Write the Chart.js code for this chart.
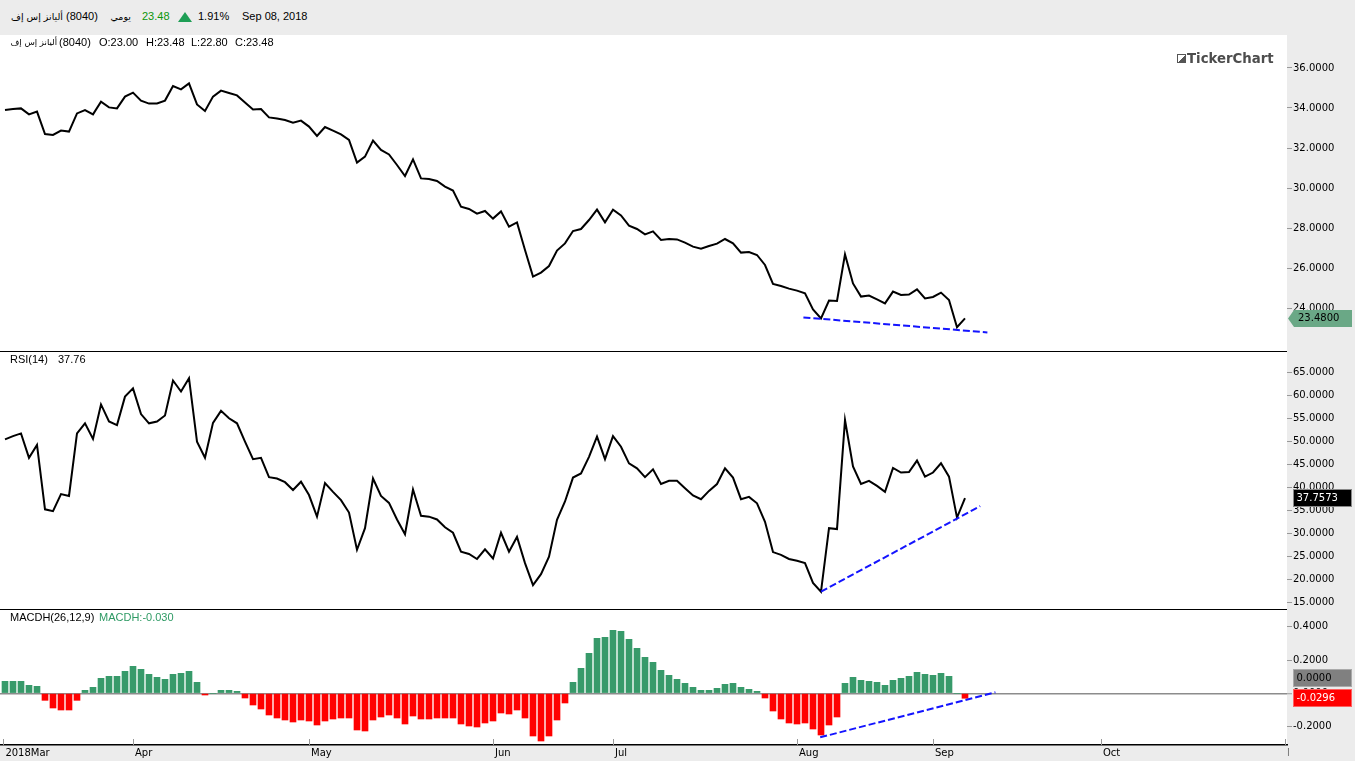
<!DOCTYPE html>
<html>
<head>
<meta charset="utf-8">
<script src="https://cdn.jsdelivr.net/npm/chart.js@4.4.1/dist/chart.umd.min.js"></script>
<style>
  html, body { margin: 0; padding: 0; background: #ececec; }
  #wrap { position: relative; width: 1355px; height: 761px; overflow: hidden; background: #ececec;
          font-family: 'Liberation Sans', Arial, sans-serif; font-size: 11px; color: #000; }
  canvas { position: absolute; left: 0; }
  .t { position: absolute; white-space: nowrap; line-height: 13px; unicode-bidi: isolate; }
  .ar { font-family: 'DejaVu Sans', sans-serif; font-size: 9.5px; direction: rtl; text-align: right; }
  .sep { position: absolute; left: 0; width: 1287px; height: 1px; background: #000; }
  .tri { position: absolute; left: 178px; top: 12px; width: 0; height: 0;
         border-left: 7px solid transparent; border-right: 7px solid transparent; border-bottom: 10px solid #1e9e55; }
  .logo { position: absolute; left: 1177px; top: 51px; font: bold 13.3px 'DejaVu Sans', sans-serif; color: #4d4d4d; }
  .logo i { display: inline-block; width: 7px; height: 7px; border: 1px solid #555; margin-right: 1px;
            background: linear-gradient(to top left, #555 50%, #fff 50%); }
</style>
</head>
<body>
<div id="wrap">
  <!-- header bar -->
  <span class="t ar" style="left:0;width:63px;top:10px">أليانز إس إف</span>
  <span class="t" style="left:66px;top:10px">(8040)</span>
  <span class="t ar" style="left:100px;width:31px;top:10px">يومي</span>
  <span class="t" style="left:142px;top:10px;color:#0a960a">23.48</span>
  <div class="tri"></div>
  <span class="t" style="left:198px;top:10px">1.91%</span>
  <span class="t" style="left:242px;top:10px">Sep 08, 2018</span>

  <canvas id="priceChart" width="1355" height="317" style="top:35px"></canvas>
  <canvas id="rsiChart" width="1355" height="258" style="top:352px"></canvas>
  <canvas id="macdChart" width="1355" height="151" style="top:610px"></canvas>

  <div class="sep" style="top:351px"></div>
  <div class="sep" style="top:609px"></div>

  <!-- panel legends -->
  <span class="t ar" style="left:0;width:57px;top:36px;font-size:8.5px">أليانز إس إف</span>
  <span class="t" style="left:59px;top:36px">(8040)</span>
  <span class="t" style="left:99px;top:36px">O:23.00</span>
  <span class="t" style="left:146px;top:36px">H:23.48</span>
  <span class="t" style="left:191px;top:36px">L:22.80</span>
  <span class="t" style="left:235px;top:36px">C:23.48</span>
  <div class="logo"><i></i>TickerChart</div>

  <span class="t" style="left:10px;top:353px">RSI(14)</span>
  <span class="t" style="left:58px;top:353px">37.76</span>

  <span class="t" style="left:10px;top:611px">MACDH(26,12,9)</span>
  <span class="t" style="left:99px;top:611px;color:#2e9a64">MACDH:-0.030</span>
</div>

<script>
// trading-day index 0 = 2018-03-08 ... 120 = 2018-09-06
const monthTicks = [-0.2, 16, 38, 61, 76, 99, 116, 137, 160];
const monthLabels = ['2018Mar', 'Apr', 'May', 'Jun', 'Jul', 'Aug', 'Sep', 'Oct', 'Nov'];

const price = [
  33.90, 33.95, 33.98, 33.68, 33.82, 32.70, 32.65, 32.87, 32.82, 33.73,
  33.90, 33.68, 34.32, 34.03, 33.98, 34.57, 34.77, 34.37, 34.22, 34.23,
  34.37, 35.10, 34.93, 35.23, 34.18, 33.85, 34.57, 34.87, 34.75, 34.63,
  34.28, 33.93, 33.95, 33.53, 33.48, 33.40, 33.27, 33.37, 33.07, 32.60,
  33.05, 32.87, 32.68, 32.40, 31.27, 31.57, 32.37, 31.90, 31.68, 31.15,
  30.60, 31.43, 30.48, 30.45, 30.35, 30.07, 29.87, 29.07, 28.95, 28.72,
  28.85, 28.47, 28.83, 28.07, 28.28, 26.90, 25.57, 25.77, 26.10, 26.87,
  27.23, 27.85, 27.95, 28.40, 28.92, 28.28, 28.92, 28.63, 28.12, 27.95,
  27.68, 27.83, 27.40, 27.45, 27.43, 27.27, 27.07, 26.97, 27.10, 27.22,
  27.45, 27.23, 26.77, 26.80, 26.65, 26.15, 25.20, 25.10, 24.97, 24.87,
  24.73, 23.93, 23.48, 24.37, 24.35, 26.68, 25.23, 24.57, 24.62, 24.43,
  24.23, 24.82, 24.65, 24.67, 24.93, 24.48, 24.55, 24.77, 24.40, 23.04,
  23.48
];

const rsi = [
  50.5, 51.2, 51.8, 46.5, 49.3, 35.3, 34.9, 38.6, 38.2, 51.8,
  54.0, 50.6, 58.1, 54.4, 53.6, 59.8, 61.6, 56.0, 54.0, 54.4,
  55.7, 63.3, 60.9, 63.8, 50.0, 46.5, 54.1, 56.7, 55.1, 54.0,
  50.0, 46.2, 46.5, 42.3, 42.0, 41.2, 39.5, 41.3, 38.4, 33.7,
  41.0, 39.1, 37.3, 34.6, 26.5, 31.2, 42.0, 38.2, 36.7, 33.1,
  29.9, 39.6, 33.9, 33.7, 33.1, 31.4, 30.2, 26.1, 25.6, 24.5,
  26.6, 24.6, 30.2, 26.1, 29.3, 23.6, 18.8, 21.2, 25.0, 33.0,
  37.0, 42.2, 43.1, 46.7, 51.1, 46.2, 51.2, 48.9, 45.3, 44.2,
  42.3, 44.0, 40.8, 41.5, 41.5, 39.9, 38.3, 37.5, 39.3, 40.8,
  44.2, 42.2, 37.5, 38.0, 36.6, 32.6, 26.0, 25.4, 24.5, 24.1,
  23.6, 19.3, 17.4, 31.2, 31.0, 54.7, 44.6, 40.8, 41.5, 40.4,
  39.1, 44.3, 43.3, 43.4, 45.9, 42.4, 43.3, 45.3, 42.4, 33.5,
  37.7573
];

const macdh = [
  0.072, 0.072, 0.072, 0.048, 0.042, -0.042, -0.088, -0.100, -0.100, -0.042,
  0.018, 0.036, 0.090, 0.102, 0.102, 0.132, 0.162, 0.144, 0.114, 0.096,
  0.084, 0.114, 0.120, 0.132, 0.066, -0.010, 0.000, 0.018, 0.018, 0.012,
  -0.028, -0.070, -0.094, -0.130, -0.148, -0.160, -0.172, -0.160, -0.166, -0.190,
  -0.166, -0.154, -0.148, -0.148, -0.220, -0.226, -0.160, -0.142, -0.130, -0.148,
  -0.184, -0.136, -0.154, -0.154, -0.148, -0.148, -0.148, -0.184, -0.196, -0.202,
  -0.178, -0.166, -0.118, -0.124, -0.100, -0.148, -0.256, -0.286, -0.256, -0.160,
  -0.058, 0.066, 0.150, 0.240, 0.330, 0.336, 0.378, 0.372, 0.324, 0.270,
  0.216, 0.186, 0.138, 0.108, 0.084, 0.060, 0.036, 0.018, 0.018, 0.030,
  0.054, 0.060, 0.036, 0.024, 0.012, -0.028, -0.106, -0.154, -0.178, -0.184,
  -0.178, -0.214, -0.250, -0.190, -0.142, 0.060, 0.096, 0.078, 0.072, 0.066,
  0.048, 0.078, 0.090, 0.102, 0.126, 0.114, 0.108, 0.120, 0.102, 0.000,
  -0.0296
];

// divergence lines (day index, value)
const priceTrend = [{ x: 99.8, y: 23.53 }, { x: 122.8, y: 22.78 }];
const rsiTrend = [{ x: 102, y: 17.4 }, { x: 121.9, y: 36.0 }];
const macdTrend = [{ x: 101.9, y: -0.264 }, { x: 123.8, y: 0.006 }];

const priceTicks = [24, 26, 28, 30, 32, 34, 36];
const rsiTicks = [15, 20, 25, 30, 35, 40, 45, 50, 55, 60, 65];
const macdTicks = [-0.2, 0, 0.2, 0.4];
const macdZeroLabel = 0;

Chart.defaults.font.family = "'DejaVu Sans', sans-serif";
Chart.defaults.font.size = 10;
Chart.defaults.color = '#000';
Chart.defaults.animation = false;

const X_MIN = -0.625, X_MAX = 160.25;
const pts = arr => arr.map((v, i) => ({ x: i, y: v }));

function xScale(show) {
  return {
    type: 'linear', min: X_MIN, max: X_MAX, display: show, offset: false,
    grid: { display: false, drawTicks: false, offset: false },
    border: { display: show, color: '#000', width: 1.5 },
    ticks: { autoSkip: false, maxRotation: 0, align: 'start', labelOffset: 2, padding: 2,
             callback: (v, i) => monthLabels[i] },
    afterBuildTicks: ax => { ax.ticks = monthTicks.map(v => ({ value: v })); },
    afterFit: ax => { ax.height = show ? 16 : 0; ax.paddingLeft = 0; ax.paddingRight = 0; }
  };
}

function yScale(min, max, ticks, grid) {
  return {
    position: 'right', min: min, max: max,
    grid: Object.assign({ drawOnChartArea: false, drawTicks: true, tickLength: 5, color: '#999', tickColor: '#999' }, grid || {}),
    border: { display: false },
    ticks: { padding: 1, autoSkip: false, callback: v => v.toFixed(4) },
    afterBuildTicks: ax => { ax.ticks = ticks.map(v => ({ value: v })); },
    afterFit: ax => { ax.width = 68; ax.paddingTop = 0; ax.paddingBottom = 0; }
  };
}

// white plotting area
const whiteArea = {
  id: 'whiteArea',
  beforeDraw(chart) {
    const { ctx, chartArea: a } = chart;
    ctx.save();
    ctx.fillStyle = '#fff';
    ctx.fillRect(a.left, a.top, a.right - a.left, a.bottom - a.top);
    ctx.restore();
  }
};

function tagText(ctx, text, x, y, color) {
  ctx.fillStyle = color;
  ctx.font = "10px 'DejaVu Sans'";
  ctx.textBaseline = 'middle';
  ctx.textAlign = 'left';
  ctx.fillText(text, x, y + 0.5);
}

const priceTag = {
  id: 'priceTag',
  afterDraw(chart) {
    const ctx = chart.ctx;
    const last = price[price.length - 1];
    const y = chart.scales.y.getPixelForValue(last);
    const L = chart.chartArea.right + 1, R = chart.width - 3;
    ctx.save();
    ctx.fillStyle = '#6aa886';
    ctx.beginPath();
    ctx.moveTo(L, y); ctx.lineTo(L + 6, y - 8.5); ctx.lineTo(R, y - 8.5);
    ctx.lineTo(R, y + 8.5); ctx.lineTo(L + 6, y + 8.5); ctx.closePath();
    ctx.fill();
    tagText(ctx, last.toFixed(4), L + 10, y, '#000');
    ctx.restore();
  }
};

const rsiTag = {
  id: 'rsiTag',
  afterDraw(chart) {
    const ctx = chart.ctx;
    const last = rsi[rsi.length - 1];
    const y = Math.round(chart.scales.y.getPixelForValue(last));
    const L = chart.chartArea.right + 6.5;
    ctx.save();
    ctx.fillStyle = '#000';
    ctx.strokeStyle = '#888';
    ctx.fillRect(L, y - 8.5, 58, 17);
    ctx.strokeRect(L, y - 8.5, 58, 17);
    tagText(ctx, last.toFixed(4), L + 3, y, '#fff');
    ctx.restore();
  }
};

const macdTags = {
  id: 'macdTags',
  afterDraw(chart) {
    const ctx = chart.ctx, a = chart.chartArea;
    const last = macdh[macdh.length - 1];
    const y = Math.round(chart.scales.y.getPixelForValue(last));
    const y0 = Math.min(chart.scales.y.getPixelForValue(macdZeroLabel), y - 20);
    const L = a.right + 6.5;
    ctx.save();
    // upward tick marks on the time axis
    ctx.strokeStyle = '#999';
    ctx.lineWidth = 1;
    chart.scales.x.ticks.forEach(t => {
      const x = Math.round(chart.scales.x.getPixelForValue(t.value)) + 0.5;
      ctx.beginPath(); ctx.moveTo(x, a.bottom - 6); ctx.lineTo(x, a.bottom); ctx.stroke();
    });
    // clip the month label that runs into the value axis
    ctx.fillStyle = '#ececec';
    ctx.fillRect(a.right + 1.5, a.bottom + 1, chart.width - a.right, 20);
    // zero and last value boxes
    ctx.fillStyle = '#808080';
    ctx.strokeStyle = '#aaa';
    ctx.fillRect(L, y0 - 8.5, 58, 17);
    ctx.strokeRect(L, y0 - 8.5, 58, 17);
    tagText(ctx, macdZeroLabel.toFixed(4), L + 3, y0, '#000');
    ctx.fillStyle = '#ff0000';
    ctx.strokeStyle = '#ff6060';
    ctx.fillRect(L, y - 8.5, 58, 17);
    ctx.strokeRect(L, y - 8.5, 58, 17);
    tagText(ctx, last.toFixed(4), L + 3, y, '#fff');
    ctx.restore();
  }
};

const lineStyle = { borderColor: '#000', borderWidth: 2, pointRadius: 0, tension: 0 };
const trendStyle = { borderColor: '#1414ff', borderWidth: 2, borderDash: [7, 3], pointRadius: 0, tension: 0 };
const baseOpts = {
  responsive: false,
  animation: false,
  events: [],
  layout: { padding: 0 },
  plugins: { legend: { display: false }, tooltip: { enabled: false } }
};

new Chart(document.getElementById('priceChart'), {
  type: 'line',
  data: { datasets: [
    Object.assign({ data: priceTrend }, trendStyle),
    Object.assign({ data: pts(price) }, lineStyle)
  ] },
  options: Object.assign({}, baseOpts, {
    scales: { x: xScale(false), y: yScale(21.8, 37.65, priceTicks) }
  }),
  plugins: [whiteArea, priceTag]
});

new Chart(document.getElementById('rsiChart'), {
  type: 'line',
  data: { datasets: [
    Object.assign({ data: rsiTrend }, trendStyle),
    Object.assign({ data: pts(rsi) }, lineStyle)
  ] },
  options: Object.assign({}, baseOpts, {
    scales: { x: xScale(false), y: yScale(13.41, 69.5, rsiTicks) }
  }),
  plugins: [whiteArea, rsiTag]
});

new Chart(document.getElementById('macdChart'), {
  type: 'bar',
  data: { datasets: [
    Object.assign({ type: 'line', data: macdTrend, order: 0 }, trendStyle),
    {
      type: 'bar', order: 1,
      data: pts(macdh),
      barThickness: 6,
      backgroundColor: macdh.map(v => v >= 0 ? '#379a6a' : '#ff0000')
    }
  ] },
  options: Object.assign({}, baseOpts, {
    scales: {
      x: xScale(true),
      y: yScale(-0.31, 0.5, macdTicks, {
        drawOnChartArea: true,
        color: c => (c.tick && c.tick.value === 0) ? '#8c8c8c' : 'rgba(0,0,0,0)',
        lineWidth: c => (c.tick && c.tick.value === 0) ? 1.5 : 1,
        tickColor: '#999', tickWidth: 1
      })
    }
  }),
  plugins: [whiteArea, macdTags]
});
</script>
</body>
</html>
